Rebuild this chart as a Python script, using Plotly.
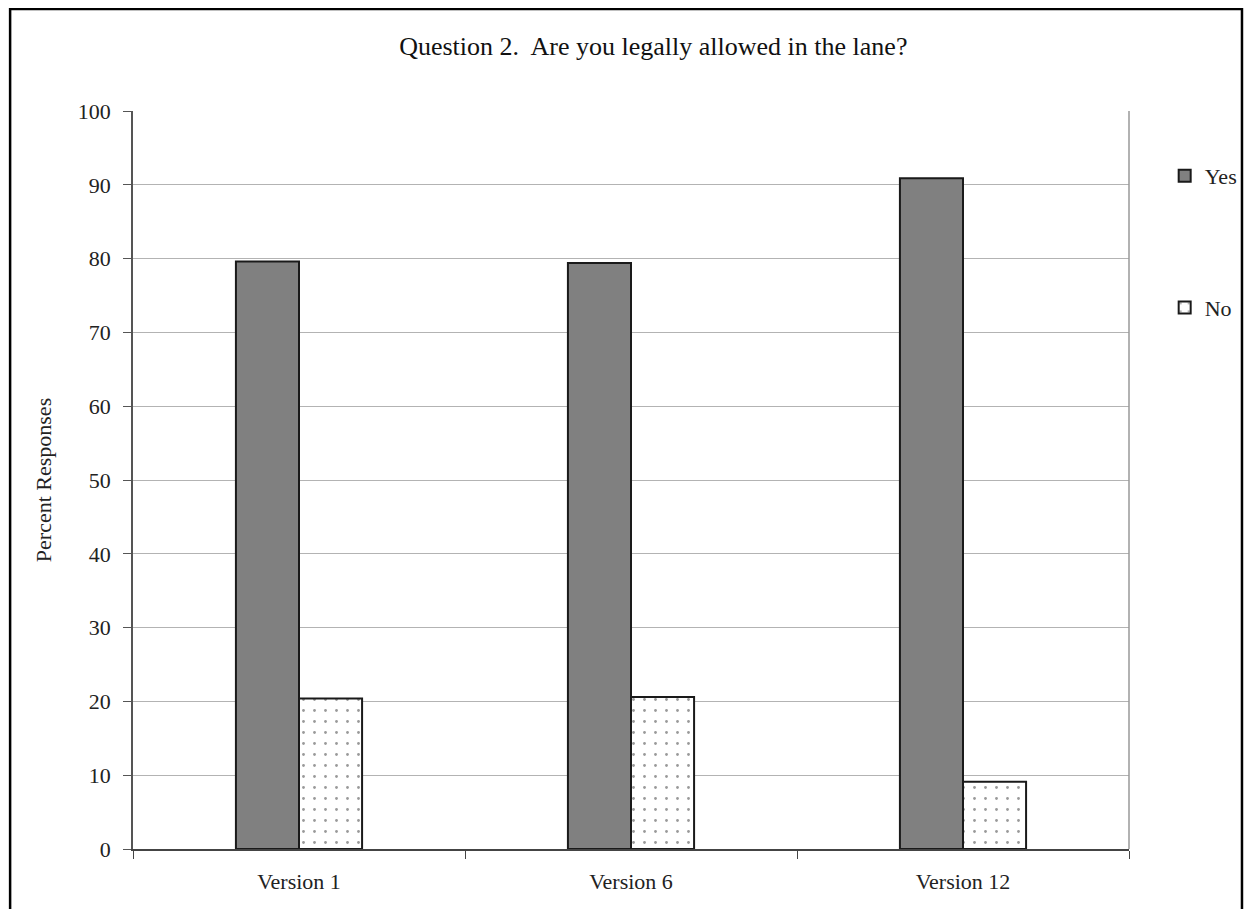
import plotly.graph_objects as go

categories = ["Version 1", "Version 6", "Version 12"]
yes_values = [79.6, 79.4, 90.9]
no_values = [20.4, 20.6, 9.1]
y_ticks = [0, 10, 20, 30, 40, 50, 60, 70, 80, 90, 100]

FONT = "Liberation Serif, Times New Roman, serif"

fig = go.Figure()
fig.add_trace(go.Bar(
    name="Yes", x=categories, y=yes_values,
    marker=dict(color="#808080", line=dict(color="#1a1a1a", width=2)),
    legendgroup="a",
))
fig.add_trace(go.Bar(
    name="No", x=categories, y=no_values,
    marker=dict(color="white", line=dict(color="#1a1a1a", width=2),
                pattern=dict(shape=".", fgcolor="#333333", bgcolor="white", size=11, solidity=0.05)),
    legendgroup="b",
))

W, H = 1247, 901
OFF = 8  # page body offset
L = 125
T = 103
R = 117
B = 60
pw, ph = W - L - R, H - T - B

def px_to_paper_x(px):
    return (px - OFF - L) / pw

def px_to_paper_y(py):
    return (H - B - (py - OFF)) / ph

fig.update_layout(
    width=W, height=H,
    margin=dict(l=L, r=R, t=T, b=B),
    paper_bgcolor="white", plot_bgcolor="white",
    barmode="group", bargap=0.62, bargroupgap=0,
    font=dict(family=FONT, size=22, color="#222222"),
    title=dict(text="Question 2.  Are you legally allowed in the lane?",
               x=px_to_paper_x(658), xref="paper", xanchor="center",
               y=1 - (46 - OFF) / H, yanchor="middle",
               font=dict(family=FONT, size=26, color="#111111")),
    showlegend=True,
    legend=dict(x=px_to_paper_x(1174), y=px_to_paper_y(155), xanchor="left", yanchor="top",
                tracegroupgap=100, font=dict(family=FONT, size=22, color="#222222"),
                itemwidth=30, bgcolor="rgba(0,0,0,0)"),
    xaxis=dict(showgrid=False, showline=True, linecolor="#444444", linewidth=1.5,
               mirror=False, ticks="outside", tickson="boundaries", ticklen=8,
               tickcolor="#444444", ticklabelstandoff=12,
               tickfont=dict(family=FONT, size=22, color="#222222")),
    yaxis=dict(range=[0, 100], tickvals=y_ticks, showgrid=True, gridcolor="#b3b3b3",
               gridwidth=1, showline=True, linecolor="#555555", linewidth=1.5, mirror=False,
               ticks="outside", ticklen=8, tickcolor="#555555", zeroline=False,
               ticklabelstandoff=8,
               tickfont=dict(family=FONT, size=22, color="#222222"),
               title=dict(text="Percent Responses", font=dict(family=FONT, size=22, color="#222222"),
                          standoff=20)),
    shapes=[
        dict(type="line", xref="paper", yref="paper", x0=1, x1=1, y0=0, y1=1,
             line=dict(color="#999999", width=1.5)),
        dict(type="rect", xref="paper", yref="paper",
             x0=px_to_paper_x(9), x1=px_to_paper_x(1252),
             y0=px_to_paper_y(930), y1=px_to_paper_y(9),
             line=dict(color="black", width=2.5), fillcolor="rgba(0,0,0,0)", layer="below"),
    ],
)

fig.write_html("out.html")
